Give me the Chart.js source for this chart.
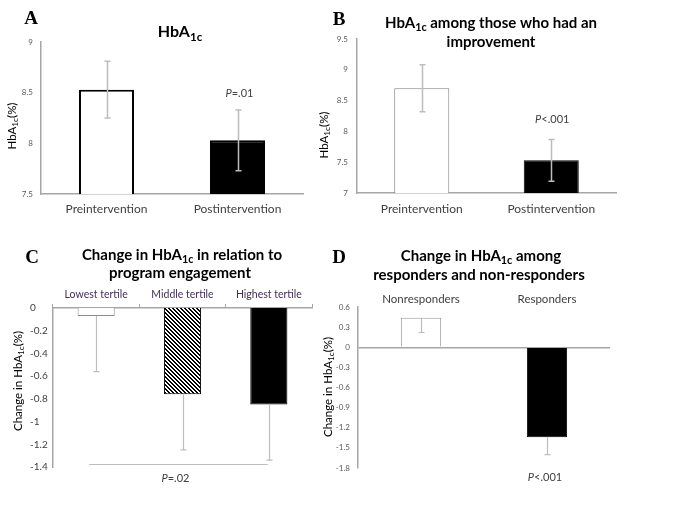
<!DOCTYPE html>
<html>
<head>
<meta charset="utf-8">
<script src="https://cdn.jsdelivr.net/npm/chart.js@4.4.1/dist/chart.umd.min.js"></script>
<style>
  html, body { margin: 0; padding: 0; background: #ffffff; }
  #wrap { position: relative; width: 681px; height: 509px; background: #fff; overflow: hidden; }
  canvas { position: absolute; left: 0; top: 0; }
</style>
</head>
<body>
<div id="wrap">
  <canvas id="cA" width="681" height="509"></canvas>
  <canvas id="cB" width="681" height="509"></canvas>
  <canvas id="cC" width="681" height="509"></canvas>
  <canvas id="cD" width="681" height="509"></canvas>
</div>
<script>
// ---------------- DATA ----------------
const catsA = ['Preintervention', 'Postintervention'];
const valsA = [8.53, 8.03];
const errA  = [0.28, 0.30];
const ticksA = [7.5, 8, 8.5, 9];

const catsB = ['Preintervention', 'Postintervention'];
const valsB = [8.70, 7.53];
const errB  = [0.38, 0.34];
const ticksB = [7, 7.5, 8, 8.5, 9, 9.5];

const catsC = ['Lowest tertile', 'Middle tertile', 'Highest tertile'];
const valsC = [-0.07, -0.76, -0.85];
const errC  = [0.49, 0.49, 0.49];
const ticksC = [0, -0.2, -0.4, -0.6, -0.8, -1, -1.2, -1.4];

const catsD = ['Nonresponders', 'Responders'];
const valsD = [0.44, -1.34];
const errD  = [0.22, 0.26];
const ticksD = [0.6, 0.3, 0, -0.3, -0.6, -0.9, -1.2, -1.5, -1.8];

// ---------------- HELPERS ----------------
const FONT = 'Lato, "Open Sans", sans-serif';
const SERIF = '"Liberation Serif", "DejaVu Serif", serif';
Chart.defaults.font.family = FONT;

function drawRich(ctx, segs, x, y, size, weight, color, align) {
  let total = 0;
  const parts = segs.map(s => {
    const sz = s.sub ? size * 0.72 : size;
    const font = (s.i ? 'italic ' : '') + weight + ' ' + sz + 'px ' + FONT;
    ctx.font = font;
    const w = ctx.measureText(s.t).width;
    total += w;
    return { s, font, w };
  });
  let cx = align === 'center' ? x - total / 2 : x;
  ctx.fillStyle = color;
  ctx.textBaseline = 'middle';
  ctx.textAlign = 'left';
  parts.forEach(p => {
    ctx.font = p.font;
    ctx.fillText(p.s.t, cx, y + (p.s.sub ? size * 0.3 : 0));
    cx += p.w;
  });
}

const decoPlugin = {
  id: 'deco',
  afterDatasetsDraw(chart, args, o) {
    const ctx = chart.ctx;
    const xs = chart.scales.x, ys = chart.scales.y;
    const meta = chart.getDatasetMeta(0);
    const vals = chart.data.datasets[0].data;
    ctx.save();
    if (o.err) {
      ctx.strokeStyle = o.err.color;
      ctx.lineWidth = o.err.width;
      meta.data.forEach((bar, i) => {
        const v = vals[i];
        const up = o.err.plus ? o.err.plus[i] : 0;
        const dn = o.err.minus ? o.err.minus[i] : 0;
        const yTop = ys.getPixelForValue(v + up);
        const yBot = ys.getPixelForValue(v - dn);
        const x = Math.round(bar.x) + 0.5;
        ctx.beginPath();
        ctx.moveTo(x, yTop); ctx.lineTo(x, yBot);
        const c = o.err.cap;
        if (up > 0) { ctx.moveTo(x - c, yTop); ctx.lineTo(x + c, yTop); }
        if (dn > 0) { ctx.moveTo(x - c, yBot); ctx.lineTo(x + c, yBot); }
        ctx.stroke();
      });
    }
    if (o.bracket) {
      const b = o.bracket;
      const y = Math.round(ys.getPixelForValue(b.value)) + 0.5;
      ctx.strokeStyle = b.color; ctx.lineWidth = 1;
      ctx.beginPath();
      ctx.moveTo(xs.getPixelForValue(b.from) + b.dx0, y);
      ctx.lineTo(xs.getPixelForValue(b.to) + b.dx1, y);
      ctx.stroke();
    }
    (o.notes || []).forEach(n => {
      drawRich(ctx, n.segs, xs.getPixelForValue(n.cat) + (n.dx || 0), ys.getPixelForValue(n.value), n.size, 'normal', n.color, 'center');
    });
    if (o.title) {
      o.title.lines.forEach((ln, k) => {
        drawRich(ctx, ln, o.title.x[k], o.title.y[k], o.title.size, 'bold', '#000', 'center');
      });
    }
    if (o.yTitle) {
      ctx.save();
      ctx.translate(o.yTitle.x, o.yTitle.y);
      ctx.rotate(-Math.PI / 2);
      drawRich(ctx, o.yTitle.segs, 0, 0, o.yTitle.size, 'normal', o.yTitle.color, 'center');
      ctx.restore();
    }
    if (o.letter) {
      ctx.font = 'bold ' + o.letter.size + 'px ' + SERIF;
      ctx.fillStyle = '#000';
      ctx.textAlign = 'center';
      ctx.textBaseline = 'middle';
      ctx.fillText(o.letter.t, o.letter.x, o.letter.y);
    }
    ctx.restore();
  }
};

function fmt(v) { return String(+Number(v).toFixed(2)); }

function makeHatch() {
  const n = 4;
  const c = document.createElement('canvas');
  c.width = n; c.height = n;
  const g = c.getContext('2d');
  g.fillStyle = '#fff'; g.fillRect(0, 0, n, n);
  g.fillStyle = '#000';
  for (let y = 0; y < n; y++) {
    for (let x = 0; x < n; x++) {
      if ((((x - y) % n) + n) % n < 2) g.fillRect(x, y, 1, 1);
    }
  }
  return document.getElementById('cC').getContext('2d').createPattern(c, 'repeat');
}

const AXIS = '#a6a6a6';

function yScale(min, max, ticksArr, width, tickOpts, extra) {
  return Object.assign({
    type: 'linear', position: 'left', min, max,
    afterBuildTicks: s => { s.ticks = ticksArr.map(v => ({ value: v })); },
    afterFit: s => { s.width = width; },
    grid: { display: false, drawTicks: false },
    border: { display: true, color: AXIS, width: 1.5 },
    ticks: Object.assign({ callback: v => fmt(v) }, tickOpts)
  }, extra || {});
}

// ---------------- PANEL A ----------------
new Chart(document.getElementById('cA'), {
  type: 'bar',
  data: { labels: catsA, datasets: [{
    data: valsA,
    backgroundColor: ['#ffffff', '#000000'],
    borderColor: ['#000000', '#000000'],
    borderWidth: 2,
    barPercentage: 0.42, categoryPercentage: 1
  }]},
  options: {
    responsive: false, animation: false, devicePixelRatio: 1,
    layout: { padding: { left: 0, right: 378, top: 42, bottom: 285 } },
    plugins: { legend: { display: false }, tooltip: { enabled: false },
      deco: {
        err: { plus: errA, minus: errA, color: '#bdbdbd', width: 1.5, cap: 3 },
        notes: [{ cat: 1, value: 8.49, dx: 2, size: 11, color: '#404040', segs: [{ t: 'P', i: true }, { t: '=.01' }] }],
        title: { lines: [[{ t: 'HbA' }, { t: '1c', sub: true }]], x: [180], y: [32], size: 16 },
        yTitle: { x: 12, y: 126, size: 11.5, color: '#000', segs: [{ t: 'HbA' }, { t: '1c', sub: true }, { t: '(%)' }] },
        letter: { t: 'A', x: 31, y: 19, size: 19 }
      }
    },
    scales: {
      x: { position: 'bottom', afterFit: s => { s.height = 30; },
        grid: { display: false, drawTicks: false },
        border: { display: true, color: AXIS, width: 1.5 },
        ticks: { font: { size: 12 }, color: '#404040', padding: 8 } },
      y: yScale(7.5, 9, ticksA, 41, { font: { size: 8 }, color: '#595959', padding: 8 })
    }
  },
  plugins: [decoPlugin]
});

// ---------------- PANEL B ----------------
new Chart(document.getElementById('cB'), {
  type: 'bar',
  data: { labels: catsB, datasets: [{
    data: valsB,
    backgroundColor: ['#ffffff', '#000000'],
    borderColor: ['#808080', '#000000'],
    borderWidth: 1,
    barPercentage: 0.425, categoryPercentage: 1
  }]},
  options: {
    responsive: false, animation: false, devicePixelRatio: 1,
    layout: { padding: { left: 317, right: 65, top: 39, bottom: 286 } },
    plugins: { legend: { display: false }, tooltip: { enabled: false },
      deco: {
        err: { plus: errB, minus: errB, color: '#bdbdbd', width: 1.5, cap: 3 },
        notes: [{ cat: 1, value: 8.19, dx: 1, size: 11, color: '#404040', segs: [{ t: 'P', i: true }, { t: '<.001' }] }],
        title: { lines: [[{ t: 'HbA' }, { t: '1c', sub: true }, { t: ' among those who had an' }], [{ t: 'improvement' }]],
          x: [491, 491], y: [23, 42], size: 15 },
        yTitle: { x: 324, y: 135, size: 11.5, color: '#000', segs: [{ t: 'HbA' }, { t: '1c', sub: true }, { t: '(%)' }] },
        letter: { t: 'B', x: 339, y: 20, size: 19 }
      }
    },
    scales: {
      x: { position: 'bottom', afterFit: s => { s.height = 30; },
        grid: { display: false, drawTicks: false },
        border: { display: true, color: AXIS, width: 1.5 },
        ticks: { font: { size: 12 }, color: '#404040', padding: 9 } },
      y: yScale(7, 9.5, ticksB, 40, { font: { size: 8 }, color: '#595959', padding: 9 })
    }
  },
  plugins: [decoPlugin]
});

// ---------------- PANEL C ----------------
new Chart(document.getElementById('cC'), {
  type: 'bar',
  data: { labels: catsC, datasets: [{
    data: valsC,
    backgroundColor: ['#ffffff', makeHatch(), '#000000'],
    borderColor: ['#8c8c8c', '#000000', '#000000'],
    borderWidth: 1,
    barPercentage: 0.43, categoryPercentage: 1
  }]},
  options: {
    responsive: false, animation: false, devicePixelRatio: 1,
    layout: { padding: { left: 30, right: 369, top: 283, bottom: 42 } },
    plugins: { legend: { display: false }, tooltip: { enabled: false },
      deco: {
        err: { plus: null, minus: errC, color: '#bdbdbd', width: 1.2, cap: 3 },
        bracket: { from: 0, to: 2, dx0: -7, dx1: -1, value: -1.375, color: '#bdbdbd' },
        notes: [{ cat: 1, value: -1.497, dx: -7, size: 11, color: '#404040', segs: [{ t: 'P', i: true }, { t: '=.02' }] }],
        title: { lines: [[{ t: 'Change in HbA' }, { t: '1c', sub: true }, { t: ' in relation to' }], [{ t: 'program engagement' }]],
          x: [182, 180], y: [255, 273], size: 15 },
        yTitle: { x: 18, y: 381, size: 11.5, color: '#000', segs: [{ t: 'Change in HbA' }, { t: '1c', sub: true }, { t: '(%)' }] },
        letter: { t: 'C', x: 32, y: 258, size: 19 }
      }
    },
    scales: {
      x: { position: 'top', afterFit: s => { s.height = 25; },
        grid: { display: true, drawOnChartArea: false, drawTicks: true, tickLength: 4, offset: true, color: AXIS },
        border: { display: true, color: AXIS, width: 1.5 },
        ticks: { font: { size: 10.5 }, color: '#403152', padding: 3 } },
      y: yScale(-1.4, 0, ticksC, 23, { font: { size: 10 }, color: '#404040', padding: 8, crossAlign: 'far' })
    }
  },
  plugins: [decoPlugin]
});

// ---------------- PANEL D ----------------
new Chart(document.getElementById('cD'), {
  type: 'bar',
  data: { labels: catsD, datasets: [{
    data: valsD,
    backgroundColor: ['#ffffff', '#000000'],
    borderColor: ['#999999', '#000000'],
    borderWidth: 1,
    barPercentage: 0.32, categoryPercentage: 1
  }]},
  options: {
    responsive: false, animation: false, devicePixelRatio: 1,
    layout: { padding: { left: 328, right: 71, top: 282, bottom: 41 } },
    plugins: { legend: { display: false }, tooltip: { enabled: false },
      deco: {
        err: { plus: null, minus: errD, color: '#bdbdbd', width: 1.2, cap: 3 },
        notes: [{ cat: 1, value: -1.94, dx: -2, size: 11, color: '#404040', segs: [{ t: 'P', i: true }, { t: '<.001' }] }],
        title: { lines: [[{ t: 'Change in HbA' }, { t: '1c', sub: true }, { t: ' among' }], [{ t: 'responders and non-responders' }]],
          x: [481, 479], y: [256, 275], size: 15 },
        yTitle: { x: 328, y: 387, size: 11.5, color: '#000', segs: [{ t: 'Change in HbA' }, { t: '1c', sub: true }, { t: '(%)' }] },
        letter: { t: 'D', x: 339, y: 258, size: 19 }
      }
    },
    scales: {
      x: { position: 'top', afterFit: s => { s.height = 25; },
        grid: { display: false, drawTicks: false },
        border: { display: false },
        ticks: { font: { size: 11.5 }, color: '#404040', padding: 1 } },
      y: yScale(-1.8, 0.6, ticksD, 30, { font: { size: 8 }, color: '#595959', padding: 8 }, {
        grid: { display: true, drawTicks: false, lineWidth: 1.5,
          color: c => (c.tick && Math.abs(c.tick.value) < 1e-9) ? AXIS : 'rgba(0,0,0,0)' } })
    }
  },
  plugins: [decoPlugin]
});
</script>
</body>
</html>
